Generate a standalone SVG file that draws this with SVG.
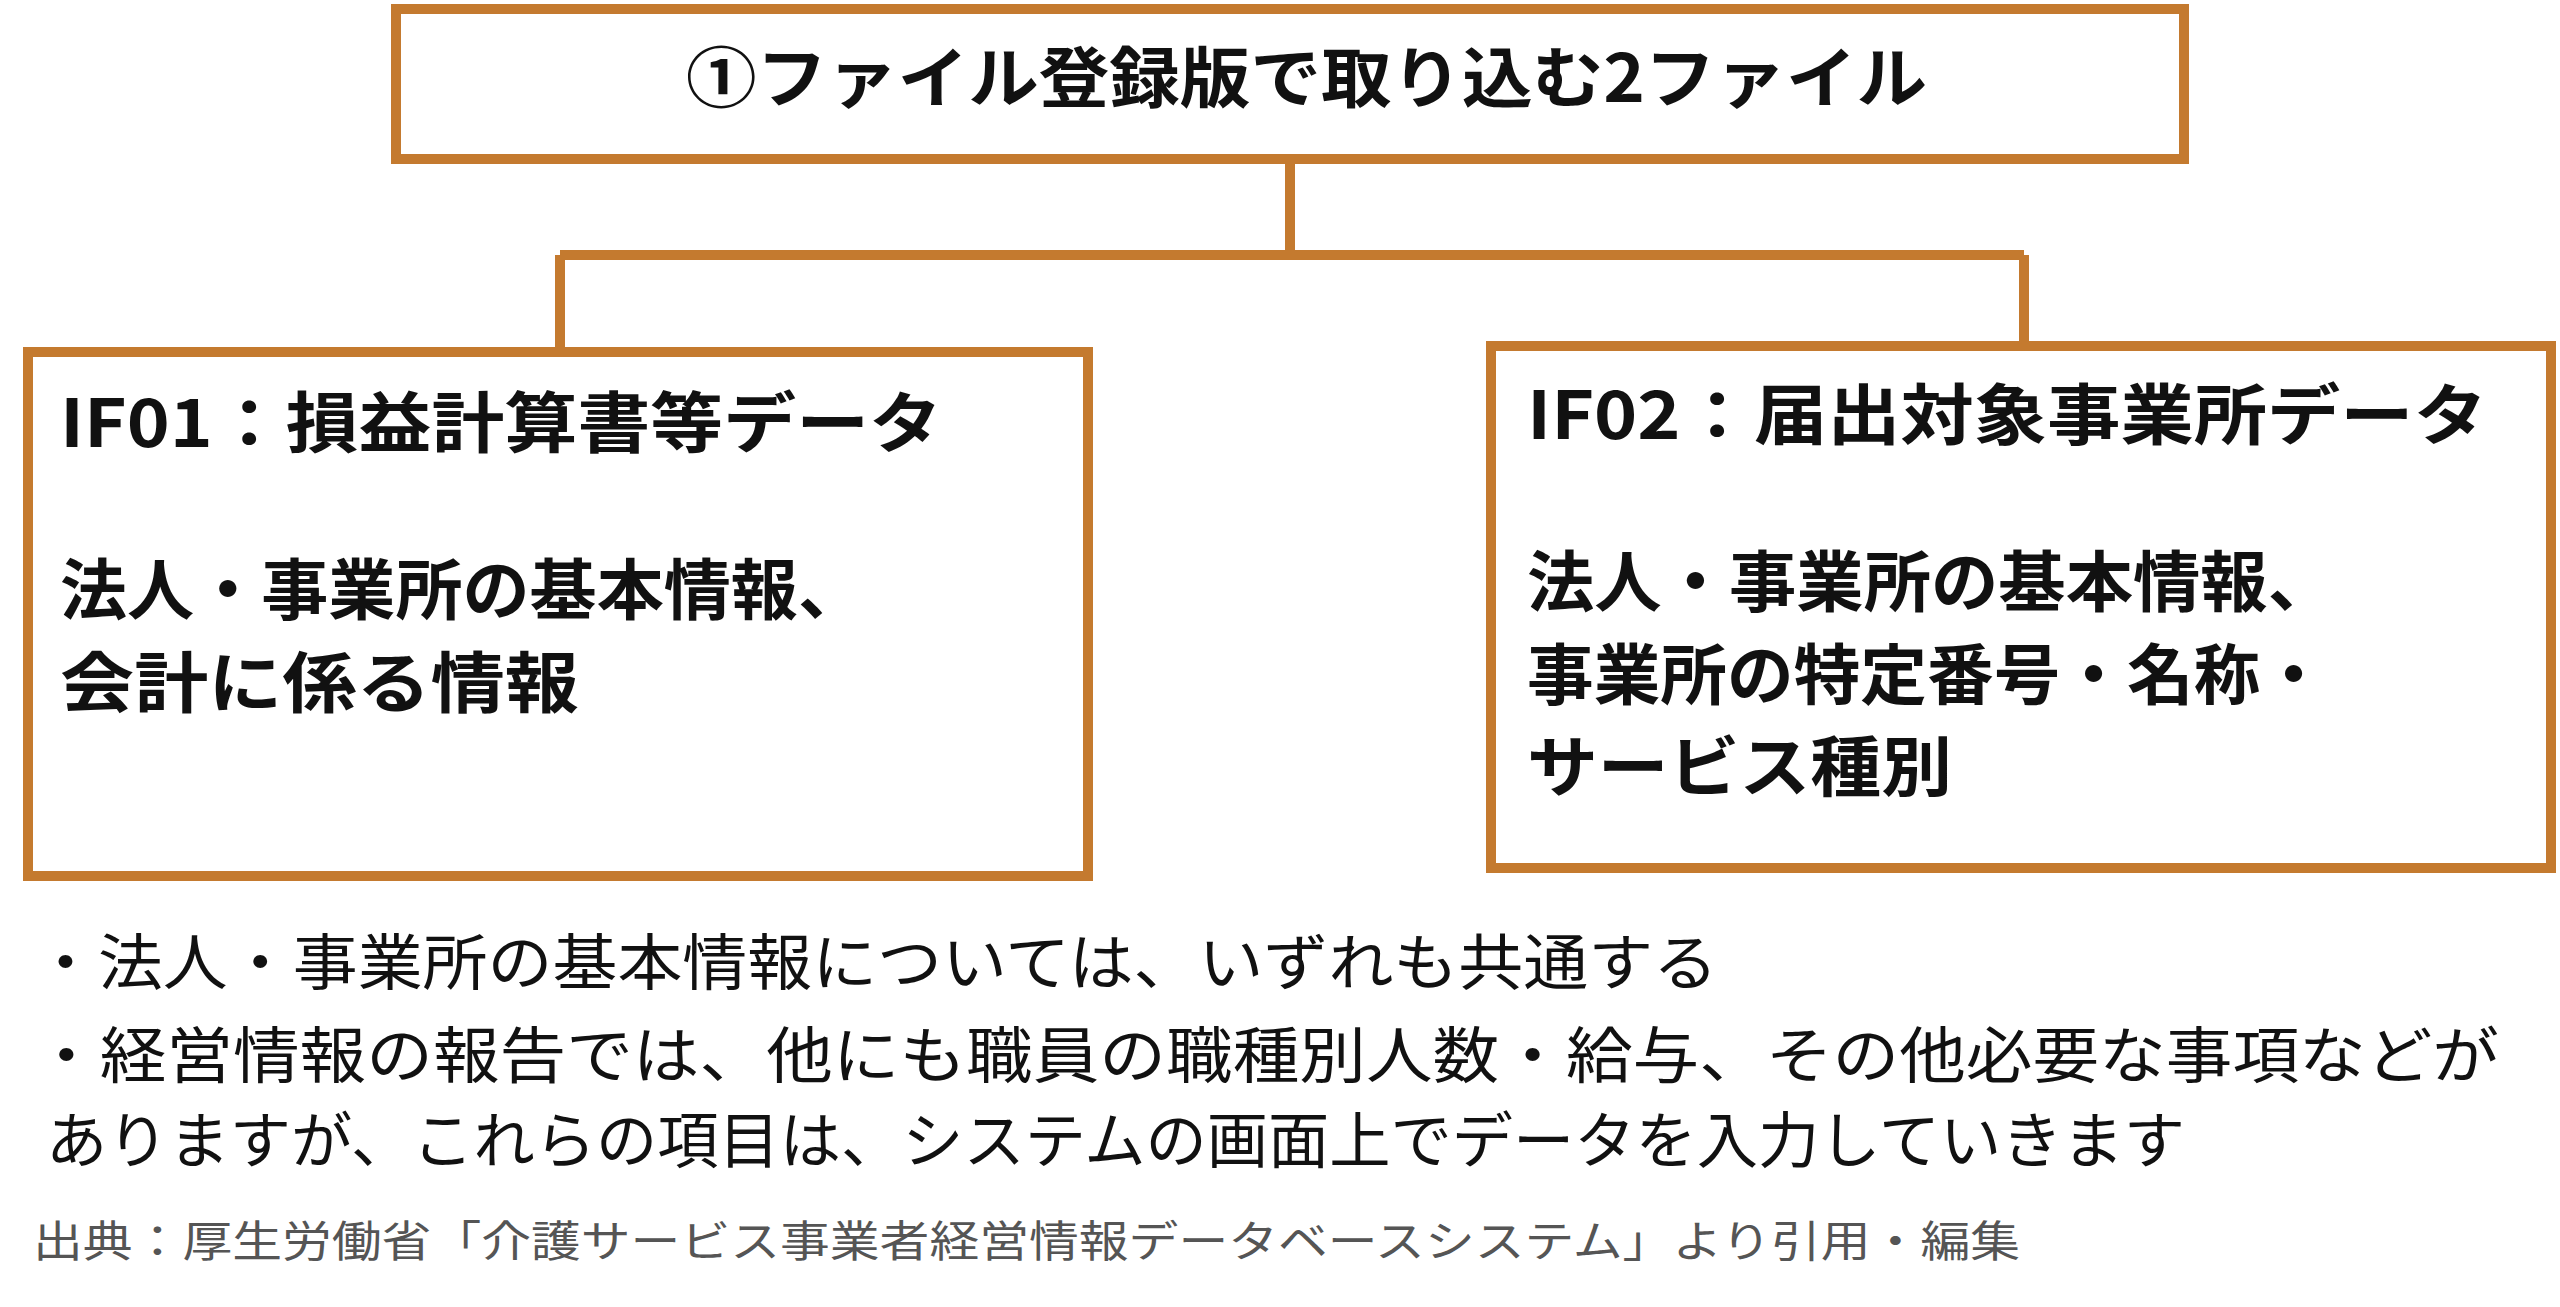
<svg xmlns="http://www.w3.org/2000/svg" width="2560" height="1307" viewBox="0 0 2560 1307">
<style>
.box{fill:#fff;stroke:#C47A2F;stroke-width:10}
.ln{fill:none;stroke:#C47A2F;stroke-width:10}
text{font-family:"Noto Sans CJK JP","Noto Sans",sans-serif;fill:#111}
.b{font-weight:bold;font-size:66px}
.n{font-size:61px}
.f{font-size:43px;fill:#555}
</style>
<rect width="2560" height="1307" fill="#fff"/>
<g id="connectors">
<path class="ln" d="M1290 160V255M560 255H2024M560 255V351M2024 255V344"/>
</g>
<g id="top"><rect class="box" x="396" y="9" width="1788" height="150"/>
<text class="b" x="686" y="102" textLength="1241" lengthAdjust="spacingAndGlyphs">①ファイル登録版で取り込む2ファイル</text></g>
<g id="if01"><rect class="box" x="28" y="352" width="1060" height="524"/>
<text class="b" x="60" y="447" textLength="882" lengthAdjust="spacingAndGlyphs">IF01：損益計算書等データ</text>
<text class="b" x="60" y="614" textLength="805" lengthAdjust="spacingAndGlyphs">法人・事業所の基本情報、</text>
<text class="b" x="60" y="707" textLength="519" lengthAdjust="spacingAndGlyphs">会計に係る情報</text></g>
<g id="if02"><rect class="box" x="1491" y="346" width="1060" height="522"/>
<text class="b" x="1527" y="439" textLength="960" lengthAdjust="spacingAndGlyphs">IF02：届出対象事業所データ</text>
<text class="b" x="1527" y="606" textLength="808" lengthAdjust="spacingAndGlyphs">法人・事業所の基本情報、</text>
<text class="b" x="1527" y="699" textLength="800" lengthAdjust="spacingAndGlyphs">事業所の特定番号・名称・</text>
<text class="b" x="1527" y="791" textLength="425" lengthAdjust="spacingAndGlyphs">サービス種別</text></g>
<g id="notes">
<text class="n" x="33" y="985" textLength="1685" lengthAdjust="spacingAndGlyphs">・法人・事業所の基本情報については、いずれも共通する</text>
<text class="n" x="33" y="1078" textLength="2466" lengthAdjust="spacingAndGlyphs">・経営情報の報告では、他にも職員の職種別人数・給与、その他必要な事項などが</text>
<text class="n" x="46" y="1163" textLength="2139" lengthAdjust="spacingAndGlyphs">ありますが、これらの項目は、システムの画面上でデータを入力していきます</text>
<text class="f" x="33" y="1257" textLength="1987" lengthAdjust="spacingAndGlyphs">出典：厚生労働省「介護サービス事業者経営情報データベースシステム」より引用・編集</text>
</g>
</svg>
